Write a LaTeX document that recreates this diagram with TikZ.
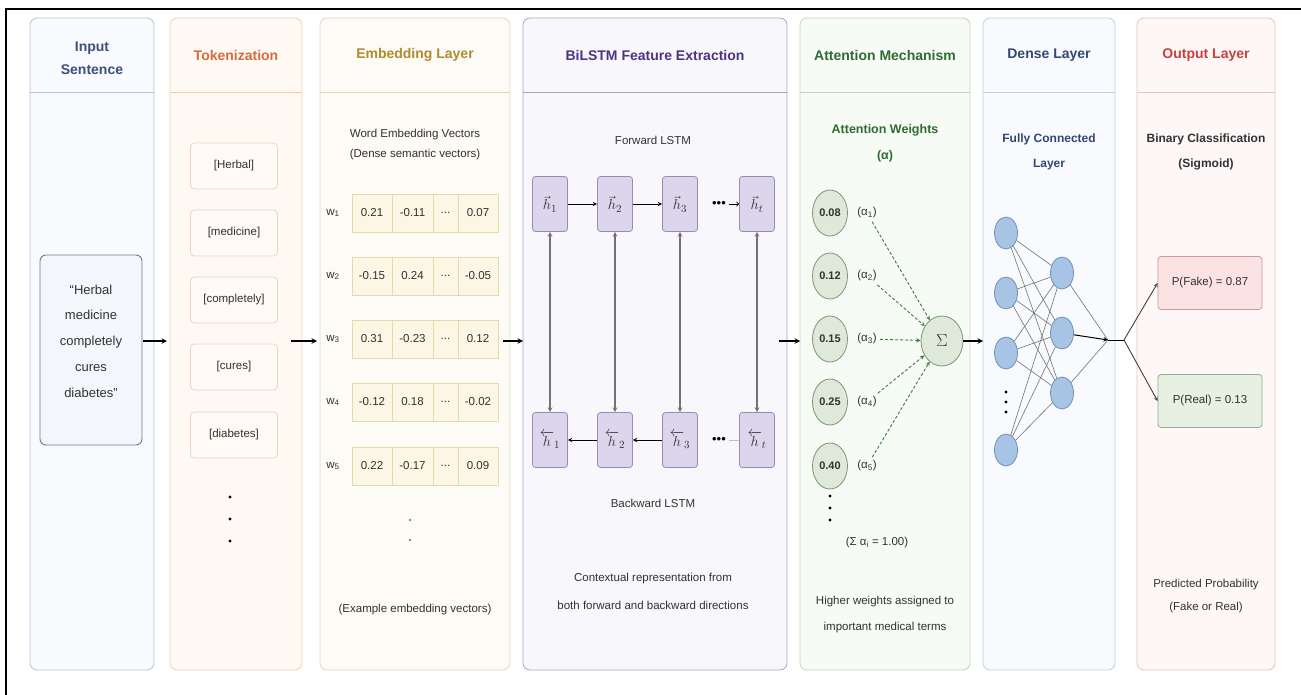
\documentclass[tikz,border=0pt]{standalone}
\usepackage{fontspec}
\setmainfont{Liberation Sans}
\usepackage{amsmath}
\usetikzlibrary{arrows,shapes.geometric}
\definecolor{in_line}{RGB}{180,196,216}
\definecolor{in_fill}{RGB}{248,250,253}
\definecolor{in_title}{RGB}{61,79,124}
\definecolor{in_box}{RGB}{243,247,251}
\definecolor{in_boxline}{RGB}{110,122,145}
\definecolor{tok_line}{RGB}{242,205,176}
\definecolor{tok_fill}{RGB}{255,249,244}
\definecolor{tok_title}{RGB}{214,107,63}
\definecolor{tok_box}{RGB}{255,250,246}
\definecolor{tok_boxline}{RGB}{238,210,188}
\definecolor{emb_line}{RGB}{226,217,185}
\definecolor{emb_fill}{RGB}{253,251,245}
\definecolor{emb_title}{RGB}{176,138,46}
\definecolor{emb_cell}{RGB}{252,246,228}
\definecolor{emb_cellline}{RGB}{230,218,172}
\definecolor{lstm_line}{RGB}{169,166,187}
\definecolor{lstm_fill}{RGB}{248,247,252}
\definecolor{lstm_title}{RGB}{77,52,128}
\definecolor{lstm_box}{RGB}{220,213,236}
\definecolor{lstm_boxline}{RGB}{150,140,180}
\definecolor{att_line}{RGB}{195,214,189}
\definecolor{att_fill}{RGB}{247,251,245}
\definecolor{att_title}{RGB}{47,107,52}
\definecolor{att_node}{RGB}{222,233,218}
\definecolor{att_nodeline}{RGB}{125,150,120}
\definecolor{att_arrow}{RGB}{60,125,60}
\definecolor{dn_line}{RGB}{194,207,226}
\definecolor{dn_fill}{RGB}{248,250,254}
\definecolor{dn_title}{RGB}{51,71,117}
\definecolor{nr_fill}{RGB}{168,196,228}
\definecolor{nr_line}{RGB}{112,144,184}
\definecolor{out_line}{RGB}{230,196,196}
\definecolor{out_fill}{RGB}{253,248,247}
\definecolor{out_title}{RGB}{201,65,63}
\definecolor{fake_fill}{RGB}{251,227,227}
\definecolor{fake_line}{RGB}{210,150,150}
\definecolor{real_fill}{RGB}{230,240,227}
\definecolor{real_line}{RGB}{150,170,150}
\definecolor{txt_dark}{RGB}{50,50,50}
\tikzstyle{panel}=[rounded corners=7pt,line width=0.8pt]
\tikzstyle{sep}=[line width=0.8pt]
\tikzstyle{ptitle}=[align=center,font=\bfseries\fontsize{14}{23}\selectfont]
\tikzstyle{txt}=[align=center,text=txt_dark,font=\fontsize{11.5}{24}\selectfont]
\tikzstyle{subt}=[align=center,font=\bfseries\fontsize{12.5}{26}\selectfont]
\tikzstyle{inbox}=[rectangle,rounded corners=6pt,fill=in_box,draw=in_boxline,
  line width=0.9pt,minimum width=102pt,minimum height=190pt]
\tikzstyle{tok}=[rectangle,rounded corners=4pt,fill=tok_box,draw=tok_boxline,
  line width=0.8pt,minimum width=87pt,minimum height=46pt,text=txt_dark,
  font=\fontsize{11.5}{14}\selectfont]
\tikzstyle{cell}=[rectangle,fill=emb_cell,draw=emb_cellline,line width=0.6pt,
  minimum height=38pt,minimum width=40pt,inner sep=0pt,text=txt_dark,
  font=\fontsize{11.5}{14}\selectfont]
\tikzstyle{hs}=[rectangle,rounded corners=3pt,fill=lstm_box,draw=lstm_boxline,
  line width=0.8pt,minimum width=35pt,minimum height=55pt,inner sep=0pt,
  text=txt_dark,font=\fontsize{15}{17}\selectfont]
\tikzstyle{wt}=[ellipse,fill=att_node,draw=att_nodeline,line width=0.8pt,
  minimum width=35pt,minimum height=46pt,inner sep=0pt,text=txt_dark,
  font=\bfseries\fontsize{11}{13}\selectfont]
\tikzstyle{sig}=[ellipse,fill=att_node,draw=att_nodeline,line width=0.8pt,
  minimum width=42pt,minimum height=50pt,inner sep=0pt,text=txt_dark,
  font=\fontsize{19}{21}\selectfont]
\tikzstyle{nr}=[ellipse,fill=nr_fill,draw=nr_line,line width=0.8pt,
  minimum width=23pt,minimum height=32pt,inner sep=0pt]
\tikzstyle{prob}=[rectangle,rounded corners=3pt,line width=0.8pt,minimum width=104pt,
  minimum height=53pt,text=txt_dark,font=\fontsize{11.5}{14}\selectfont]
\tikzstyle{smalldot}=[circle,fill=black,inner sep=0pt,minimum size=3.2pt]
\tikzstyle{flow}=[->,>=stealth,line width=1.4pt]
\tikzstyle{harr}=[->,>=stealth,line width=0.9pt]
\tikzstyle{varr}=[<->,>=stealth,line width=1.1pt,draw=black!55]
\tikzstyle{attn}=[->,>=stealth,draw=att_arrow,line width=0.9pt,dash pattern=on 3pt off 2pt]
\tikzstyle{wire}=[draw=black!55,line width=0.6pt]
\tikzstyle{none}=[]

\begin{document}
\begin{tikzpicture}[x=1pt,y=-1pt]
            \useasboundingbox (0,0) rectangle (1301,695);
            \draw [line width=2pt] (6,695) -- (6,9) -- (1301,9);
            \draw [style=panel,draw=in_line,fill=in_fill] (30,18) rectangle (154,670);
            \draw [style=sep,draw=in_line] (30,92) -- (154,92);
            \draw [style=panel,draw=tok_line,fill=tok_fill] (170,18) rectangle (302,670);
            \draw [style=sep,draw=tok_line] (170,92) -- (302,92);
            \draw [style=panel,draw=emb_line,fill=emb_fill] (320,18) rectangle (510,670);
            \draw [style=sep,draw=emb_line] (320,92) -- (510,92);
            \draw [style=panel,draw=lstm_line,fill=lstm_fill] (523,18) rectangle (787,670);
            \draw [style=sep,draw=lstm_line] (523,92) -- (787,92);
            \draw [style=panel,draw=att_line,fill=att_fill] (800,18) rectangle (970,670);
            \draw [style=sep,draw=att_line] (800,92) -- (970,92);
            \draw [style=panel,draw=dn_line,fill=dn_fill] (983,18) rectangle (1115,670);
            \draw [style=sep,draw=dn_line] (983,92) -- (1115,92);
            \draw [style=panel,draw=out_line,fill=out_fill] (1137,18) rectangle (1275,670);
            \draw [style=sep,draw=out_line] (1137,92) -- (1275,92);

            \node [style=ptitle,text=in_title] (0) at (92,58) {Input\\Sentence};
            \node [style=ptitle,text=tok_title] (1) at (236,55) {Tokenization};
            \node [style=ptitle,text=emb_title] (2) at (415,55) {Embedding Layer};
            \node [style=ptitle,text=lstm_title] (3) at (655,55) {BiLSTM Feature Extraction};
            \node [style=ptitle,text=att_title] (4) at (885,55) {Attention Mechanism};
            \node [style=ptitle,text=dn_title] (5) at (1049,55) {Dense Layer};
            \node [style=ptitle,text=out_title] (6) at (1206,55) {Output Layer};

            \node [style=inbox] (7) at (91,350) {};
            \node [style=txt,font=\fontsize{13}{25.75}\selectfont] (8) at (91,341) {“Herbal\\medicine\\completely\\cures\\diabetes”};

            \node [style=tok] (10) at (234,166) {[Herbal]};
            \node [style=tok] (11) at (234,233) {[medicine]};
            \node [style=tok] (12) at (234,300) {[completely]};
            \node [style=tok] (13) at (234,367) {[cures]};
            \node [style=tok] (14) at (234,435) {[diabetes]};
            \node [style=smalldot] (15) at (230,497) {};
            \node [style=smalldot] (16) at (230,519) {};
            \node [style=smalldot] (17) at (230,541) {};

            \node [style=txt,font=\fontsize{11.5}{20}\selectfont] (20) at (415,145) {Word Embedding Vectors\\(Dense semantic vectors)};
            \node [style=txt] (21) at (333,213) {w\textsubscript{1}};
            \node [style=txt] (22) at (333,276) {w\textsubscript{2}};
            \node [style=txt] (23) at (333,339) {w\textsubscript{3}};
            \node [style=txt] (24) at (333,402) {w\textsubscript{4}};
            \node [style=txt] (25) at (333,466) {w\textsubscript{5}};
            \node [style=cell] (30) at (372,213) {0.21};
            \node [style=cell,minimum width=41pt] (31) at (412.5,213) {-0.11};
            \node [style=cell,minimum width=25pt] (32) at (445.5,213) {...};
            \node [style=cell] (33) at (478,213) {0.07};
            \node [style=cell] (34) at (372,276) {-0.15};
            \node [style=cell,minimum width=41pt] (35) at (412.5,276) {0.24};
            \node [style=cell,minimum width=25pt] (36) at (445.5,276) {...};
            \node [style=cell] (37) at (478,276) {-0.05};
            \node [style=cell] (38) at (372,339) {0.31};
            \node [style=cell,minimum width=41pt] (39) at (412.5,339) {-0.23};
            \node [style=cell,minimum width=25pt] (40) at (445.5,339) {...};
            \node [style=cell] (41) at (478,339) {0.12};
            \node [style=cell] (42) at (372,402) {-0.12};
            \node [style=cell,minimum width=41pt] (43) at (412.5,402) {0.18};
            \node [style=cell,minimum width=25pt] (44) at (445.5,402) {...};
            \node [style=cell] (45) at (478,402) {-0.02};
            \node [style=cell] (46) at (372,466) {0.22};
            \node [style=cell,minimum width=41pt] (47) at (412.5,466) {-0.17};
            \node [style=cell,minimum width=25pt] (48) at (445.5,466) {...};
            \node [style=cell] (49) at (478,466) {0.09};
            \node [style=smalldot,fill=black!60,minimum size=2.2pt] (26) at (410,520) {};
            \node [style=smalldot,fill=black!60,minimum size=2.2pt] (27) at (410,540) {};
            \node [style=txt] (28) at (415,610) {(Example embedding vectors)};

            \node [style=txt] (50) at (653,140) {Forward LSTM};
            \node [style=hs] (51) at (550,204) {$\vec{h}_1$};
            \node [style=hs] (52) at (615,204) {$\vec{h}_2$};
            \node [style=hs] (53) at (680,204) {$\vec{h}_3$};
            \node [style=hs] (54) at (757,204) {$\vec{h}_t$};
            \node [style=none,font=\fontsize{13}{14}\selectfont] (55) at (719,204) {\textbullet\textbullet\textbullet};
            \node [style=hs] (56) at (550,440) {$\overleftarrow{h}_1$};
            \node [style=hs] (57) at (615,440) {$\overleftarrow{h}_2$};
            \node [style=hs] (58) at (680,440) {$\overleftarrow{h}_3$};
            \node [style=hs] (59) at (757,440) {$\overleftarrow{h}_t$};
            \node [style=none,font=\fontsize{13}{14}\selectfont] (60) at (719,440) {\textbullet\textbullet\textbullet};
            \node [style=txt] (61) at (653,503) {Backward LSTM};
            \node [style=txt,font=\fontsize{11.5}{28}\selectfont] (62) at (653,591) {Contextual representation from\\both forward and backward directions};

            \node [style=subt,text=att_title] (70) at (885,143) {Attention Weights\\(α)};
            \node [style=wt] (71) at (830,213) {0.08};
            \node [style=wt] (72) at (830,276) {0.12};
            \node [style=wt] (73) at (830,339) {0.15};
            \node [style=wt] (74) at (830,402) {0.25};
            \node [style=wt] (75) at (830,466) {0.40};
            \node [style=txt] (76) at (867,213) {(α\textsubscript{1})};
            \node [style=txt] (77) at (867,276) {(α\textsubscript{2})};
            \node [style=txt] (78) at (867,339) {(α\textsubscript{3})};
            \node [style=txt] (79) at (867,402) {(α\textsubscript{4})};
            \node [style=txt] (80) at (867,466) {(α\textsubscript{5})};
            \node [style=sig] (81) at (942,341) {$\Sigma$};
            \node [style=smalldot] (82) at (830,496) {};
            \node [style=smalldot] (83) at (830,508) {};
            \node [style=smalldot] (84) at (830,520) {};
            \node [style=txt] (85) at (877,543) {(Σ α\textsubscript{i} = 1.00)};
            \node [style=txt,font=\fontsize{11.5}{26}\selectfont] (86) at (885,615) {Higher weights assigned to\\important medical terms};

            \node [style=subt,text=dn_title,font=\bfseries\fontsize{12}{25}\selectfont] (90) at (1049,152) {Fully Connected\\Layer};
            \node [style=nr] (91) at (1006,233) {};
            \node [style=nr] (92) at (1006,293) {};
            \node [style=nr] (93) at (1006,353) {};
            \node [style=nr] (94) at (1006,450) {};
            \node [style=smalldot] (95) at (1006,392) {};
            \node [style=smalldot] (96) at (1006,402) {};
            \node [style=smalldot] (97) at (1006,412) {};
            \node [style=nr] (98) at (1062,273) {};
            \node [style=nr] (99) at (1062,333) {};
            \node [style=nr] (100) at (1062,393) {};

            \node [style=subt,text=txt_dark,font=\bfseries\fontsize{12}{25}\selectfont] (110) at (1206,152) {Binary Classification\\(Sigmoid)};
            \node [style=prob,fill=fake_fill,draw=fake_line] (111) at (1210,283) {P(Fake) = 0.87};
            \node [style=prob,fill=real_fill,draw=real_line] (112) at (1210,401) {P(Real) = 0.13};
            \node [style=txt,font=\fontsize{11.5}{23}\selectfont] (113) at (1206,596) {Predicted Probability\\(Fake or Real)};

            \coordinate (120) at (143,341);
            \coordinate (121) at (167,341);
            \coordinate (122) at (291,341);
            \coordinate (123) at (317,341);
            \coordinate (124) at (503,341);
            \coordinate (125) at (523,341);
            \coordinate (126) at (779,341);
            \coordinate (127) at (800,341);
            \coordinate (128) at (983,341);
            \coordinate (101) at (1108,340);
            \coordinate (102) at (1124,340);

            \draw [style=flow] (120) to (121);
            \draw [style=flow] (122) to (123);
            \draw [style=flow] (124) to (125);
            \draw [style=flow] (126) to (127);
            \draw [style=flow] (81) to (128);

            \draw [style=harr] (51) to (52);
            \draw [style=harr] (52) to (53);
            \draw [->,>=to,line width=0.9pt] (55) to (54);
            \draw [style=harr] (57) to (56);
            \draw [style=harr] (58) to (57);
            \draw [draw=black!25,line width=0.6pt] (59) to (60);
            \draw [style=varr] (51) to (56);
            \draw [style=varr] (52) to (57);
            \draw [style=varr] (53) to (58);
            \draw [style=varr] (54) to (59);

            \draw [style=attn] (76) to (81);
            \draw [style=attn] (77) to (81);
            \draw [style=attn] (78) to (81);
            \draw [style=attn] (79) to (81);
            \draw [style=attn] (80) to (81);

            \draw [style=wire] (91) to (98);
            \draw [style=wire] (91) to (99);
            \draw [style=wire] (91) to (100);
            \draw [style=wire] (92) to (98);
            \draw [style=wire] (92) to (99);
            \draw [style=wire] (92) to (100);
            \draw [style=wire] (93) to (98);
            \draw [style=wire] (93) to (99);
            \draw [style=wire] (93) to (100);
            \draw [style=wire] (94) to (98);
            \draw [style=wire] (94) to (99);
            \draw [style=wire] (94) to (100);
            \draw [style=wire] (98) to (101);
            \draw [style=wire] (100) to (101);
            \draw [->,>=stealth,line width=1pt] (99) to (101);
            \draw [line width=1pt] (101) to (102);
            \draw [style=harr,draw=black!75] (102) to (111.west);
            \draw [style=harr,draw=black!75] (102) to (112.west);
    \end{tikzpicture}
\end{document}
